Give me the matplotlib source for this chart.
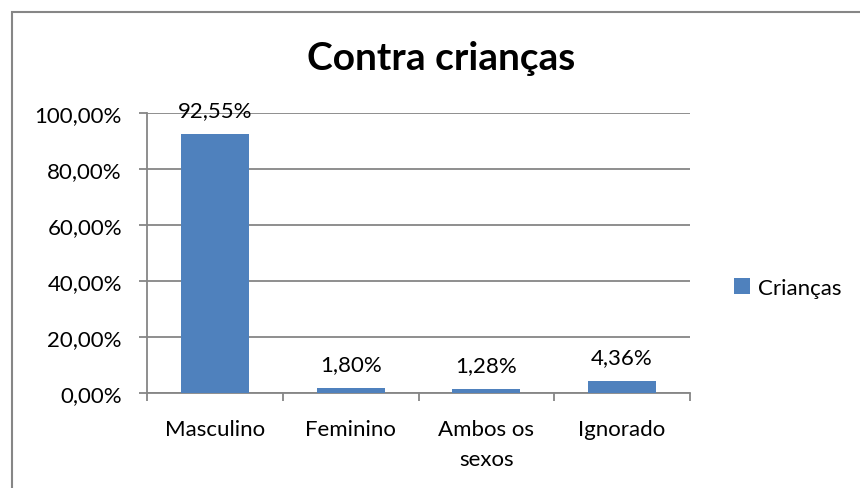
import matplotlib
matplotlib.use("Agg")
import matplotlib.pyplot as plt
import matplotlib.patches as patches

categories = ["Masculino", "Feminino", "Ambos os\nsexos", "Ignorado"]
values = [92.55, 1.80, 1.28, 4.36]
value_labels = ["92,55%", "1,80%", "1,28%", "4,36%"]
y_ticks = [0, 20, 40, 60, 80, 100]
y_tick_labels = ["0,00%", "20,00%", "40,00%", "60,00%", "80,00%", "100,00%"]
series_name = "Crianças"

plt.rcParams['font.family'] = ['Lato', 'DejaVu Sans']

bar_color = "#4F81BD"
grid_color = "#868686"
fs = 16

fig = plt.figure(figsize=(8.6, 4.89), dpi=100)

# outer chart border (runs off the bottom and right edge like the reference)
fig.patches.append(patches.Rectangle((12 / 860, -0.05), 900 / 860, 1 - 13 / 489 + 0.05,
                                     transform=fig.transFigure, fill=False,
                                     edgecolor=grid_color, linewidth=1.5))

ax = fig.add_axes([147 / 860, (489 - 394) / 489, 543 / 860, 280 / 489])

x = list(range(len(categories)))
bars = ax.bar(x, values, width=0.5, color=bar_color, zorder=3)

for xi, v, lab in zip(x, values, value_labels):
    ax.annotate(lab, (xi, v), xytext=(0, 10), textcoords="offset points",
                ha="center", va="bottom", fontsize=fs, color="black")

ax.set_xlim(-0.5, len(categories) - 0.5)
ax.set_ylim(0, 100)
ax.set_yticks(y_ticks)
ax.set_yticklabels(y_tick_labels, fontsize=fs)
ax.set_xticks(x)
ax.set_xticklabels(categories, fontsize=fs, linespacing=1.6)
ax.set_xticks([i - 0.5 for i in range(len(categories) + 1)], minor=True)
ax.tick_params(axis="x", which="major", length=0, pad=19)
ax.tick_params(axis="x", which="minor", length=6, color=grid_color, width=1.3)
ax.tick_params(axis="y", length=6, color=grid_color, width=1.3, pad=12)

ax.yaxis.grid(True, color=grid_color, linewidth=1.3, zorder=0)
for side in ["top", "right"]:
    ax.spines[side].set_visible(False)
for side in ["left", "bottom"]:
    ax.spines[side].set_color(grid_color)
    ax.spines[side].set_linewidth(1.3)

fig.text(441 / 860, 1 - 58 / 489, "Contra crianças", ha="center", va="center",
         fontsize=28, fontweight="bold")

fig.legend([bars], [series_name], loc="center left",
           bbox_to_anchor=(714 / 860, 1 - 289 / 489), frameon=False,
           fontsize=fs, handlelength=0.7, handleheight=0.7, handletextpad=0.4)

fig.savefig("out.png", dpi=100)
